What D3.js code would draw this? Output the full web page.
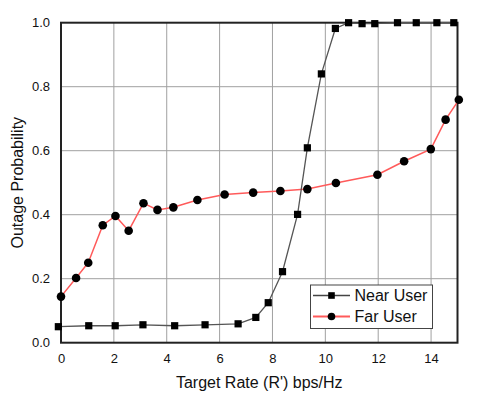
<!DOCTYPE html>
<html><head><meta charset="utf-8">
<script src="https://cdn.jsdelivr.net/npm/d3@7"></script>
<style>body{margin:0;background:#fff;} text{font-family:"Liberation Sans",Arial,sans-serif;}</style>
</head><body>
<svg id="chart" width="480" height="402"></svg>
<script>
const xTicks = [0, 2, 4, 6, 8, 10, 12, 14];
const yTicks = [0.0, 0.2, 0.4, 0.6, 0.8, 1.0];
const nearX = [-0.1, 1.05, 2.05, 3.1, 4.3, 5.45, 6.7, 7.37, 7.84, 8.38, 8.95, 9.32, 9.85, 10.38, 10.88, 11.39, 11.87, 12.73, 13.44, 14.22, 14.86];
const nearY = [0.05, 0.053, 0.053, 0.056, 0.053, 0.056, 0.059, 0.079, 0.125, 0.222, 0.401, 0.609, 0.84, 0.982, 1.0, 0.997, 0.997, 1.0, 1.0, 1.0, 1.0];
const farX = [0, 0.57, 1.03, 1.58, 2.06, 2.56, 3.12, 3.65, 4.25, 5.16, 6.19, 7.27, 8.3, 9.32, 10.4, 11.97, 12.98, 13.99, 14.55, 15.05];
const farY = [0.144, 0.202, 0.25, 0.367, 0.396, 0.35, 0.436, 0.415, 0.423, 0.446, 0.463, 0.469, 0.474, 0.48, 0.499, 0.525, 0.567, 0.605, 0.697, 0.759];
const seriesNames = ["Near User", "Far User"];
const xTitle = "Target Rate (R') bps/Hz";
const yTitle = "Outage Probability";

const svg = d3.select("#chart");
const m = {left: 61, right: 22.5, top: 22.7, bottom: 59.3};
const W = 480, H = 402;
const x = d3.scaleLinear().domain([0, 15]).range([m.left, W - m.right]);
const y = d3.scaleLinear().domain([0, 1]).range([H - m.bottom, m.top]);

// grid
const g = svg.append("g");
g.selectAll(".gx").data(xTicks.filter(d => d > 0)).enter().append("line")
  .attr("x1", d => x(d)).attr("x2", d => x(d)).attr("y1", y(0)).attr("y2", y(1))
  .attr("stroke", "#a0a0a0").attr("stroke-width", 1);
g.selectAll(".gy").data(yTicks.filter(d => d > 0 && d < 1)).enter().append("line")
  .attr("y1", d => y(d)).attr("y2", d => y(d)).attr("x1", x(0)).attr("x2", x(15))
  .attr("stroke", "#a0a0a0").attr("stroke-width", 1);

// axes (labels only)
const xAxis = d3.axisBottom(x).tickValues(xTicks).tickSize(0).tickPadding(11).tickFormat(d3.format("d"));
const gx = svg.append("g").attr("transform", `translate(0,${y(0)})`).call(xAxis);
gx.select(".domain").remove();
gx.selectAll("text").attr("font-size", 13).attr("fill", "#111").style("font-family", "Liberation Sans, Arial, sans-serif");
const yAxis = d3.axisLeft(y).tickValues(yTicks).tickSize(0).tickPadding(11).tickFormat(d3.format(".1f"));
const gy = svg.append("g").attr("transform", `translate(${x(0)},0)`).call(yAxis);
gy.select(".domain").remove();
gy.selectAll("text").attr("font-size", 13).attr("fill", "#111").style("font-family", "Liberation Sans, Arial, sans-serif");

// frame
svg.append("rect").attr("x", x(0)).attr("y", y(1)).attr("width", x(15) - x(0)).attr("height", y(0) - y(1))
  .attr("fill", "none").attr("stroke", "#222").attr("stroke-width", 2);

// titles
svg.append("text").attr("x", (x(0) + x(15)) / 2).attr("y", 388).attr("text-anchor", "middle")
  .attr("font-size", 16).attr("fill", "#111").text(xTitle);
svg.append("text").attr("transform", `translate(23,${(y(0) + y(1)) / 2}) rotate(-90)`).attr("text-anchor", "middle")
  .attr("font-size", 16).attr("fill", "#111").text(yTitle);

const near = nearX.map((v, i) => [v, nearY[i]]);
const far = farX.map((v, i) => [v, farY[i]]);
const line = d3.line().x(d => x(d[0])).y(d => y(d[1]));

svg.append("path").datum(far).attr("d", line).attr("fill", "none").attr("stroke", "#ff5a5a").attr("stroke-width", 1.5);
svg.selectAll(".fc").data(far).enter().append("circle")
  .attr("cx", d => x(d[0])).attr("cy", d => y(d[1])).attr("r", 4.3).attr("fill", "#000");

svg.append("path").datum(near).attr("d", line).attr("fill", "none").attr("stroke", "#555").attr("stroke-width", 1.3);
svg.selectAll(".ns").data(near).enter().append("rect")
  .attr("x", d => x(d[0]) - 3.6).attr("y", d => y(d[1]) - 3.6).attr("width", 7.2).attr("height", 7.2).attr("fill", "#000");

// legend
const lg = svg.append("g").attr("transform", "translate(310.5,285)");
lg.append("rect").attr("width", 122).attr("height", 43.5).attr("fill", "#fff").attr("stroke", "#444").attr("stroke-width", 1);
const rows = [{n: seriesNames[0], c: "#444", m: "sq", yy: 10.5}, {n: seriesNames[1], c: "#ff5a5a", m: "ci", yy: 31.5}];
rows.forEach(r => {
  lg.append("line").attr("x1", 2.5).attr("x2", 39.5).attr("y1", r.yy).attr("y2", r.yy).attr("stroke", r.c).attr("stroke-width", r.m === "ci" ? 2 : 1.3);
  if (r.m === "sq") lg.append("rect").attr("x", 21 - 3.3).attr("y", r.yy - 3.3).attr("width", 6.6).attr("height", 6.6).attr("fill", "#000");
  else lg.append("circle").attr("cx", 21).attr("cy", r.yy).attr("r", 3.8).attr("fill", "#000");
  lg.append("text").attr("x", 44).attr("y", r.yy + 5.8).attr("font-size", 16).attr("fill", "#111").text(r.n);
});
</script>
</body></html>
